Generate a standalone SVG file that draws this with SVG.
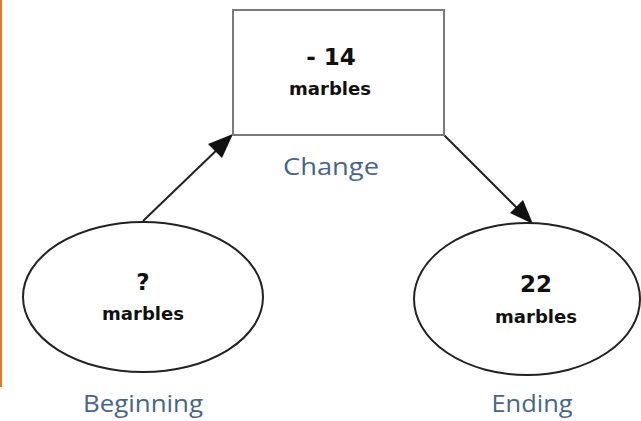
<svg xmlns="http://www.w3.org/2000/svg" width="641" height="421" viewBox="0 0 641 421">
<style>
.val{font-family:"DejaVu Sans",sans-serif;font-weight:bold;fill:#111;text-anchor:middle}
.num{font-size:23px}
.unit{font-size:18px}
.lbl{font-family:"Open Sans","Noto Sans",sans-serif;font-size:23px;fill:#46648c;text-anchor:middle}
.oval{fill:#fff;stroke:#222;stroke-width:2}
</style>
<rect x="0" y="0" width="641" height="421" fill="#fff"/>
<rect x="0" y="0" width="2" height="387" fill="#e87722"/>
<g id="connectors">
<line x1="143" y1="221" x2="222" y2="145" stroke="#222" stroke-width="2"/>
<path d="M233,134 L222,158 L208,144 Z" fill="#111"/>
<line x1="444" y1="135" x2="520" y2="211" stroke="#222" stroke-width="2"/>
<path d="M533,224 L510,213 L523,200 Z" fill="#111"/>
</g>
<g id="change">
<rect x="233" y="10" width="211" height="125" fill="#fff" stroke="#7a7a7a" stroke-width="2"/>
<text class="val num" x="331" y="65">- 14</text>
<text class="val unit" x="330" y="95" textLength="82" lengthAdjust="spacingAndGlyphs">marbles</text>
<text class="lbl" x="331" y="175" textLength="96" lengthAdjust="spacingAndGlyphs">Change</text>
</g>
<g id="beginning">
<ellipse class="oval" cx="143" cy="297" rx="120" ry="75"/>
<text class="val num" x="143" y="290">?</text>
<text class="val unit" x="143" y="320" textLength="82" lengthAdjust="spacingAndGlyphs">marbles</text>
<text class="lbl" x="143" y="412" textLength="120" lengthAdjust="spacingAndGlyphs">Beginning</text>
</g>
<g id="ending">
<ellipse class="oval" cx="527" cy="299" rx="113" ry="76"/>
<text class="val num" x="536" y="292">22</text>
<text class="val unit" x="536" y="323" textLength="82" lengthAdjust="spacingAndGlyphs">marbles</text>
<text class="lbl" x="532" y="412" textLength="81" lengthAdjust="spacingAndGlyphs">Ending</text>
</g>
</svg>
